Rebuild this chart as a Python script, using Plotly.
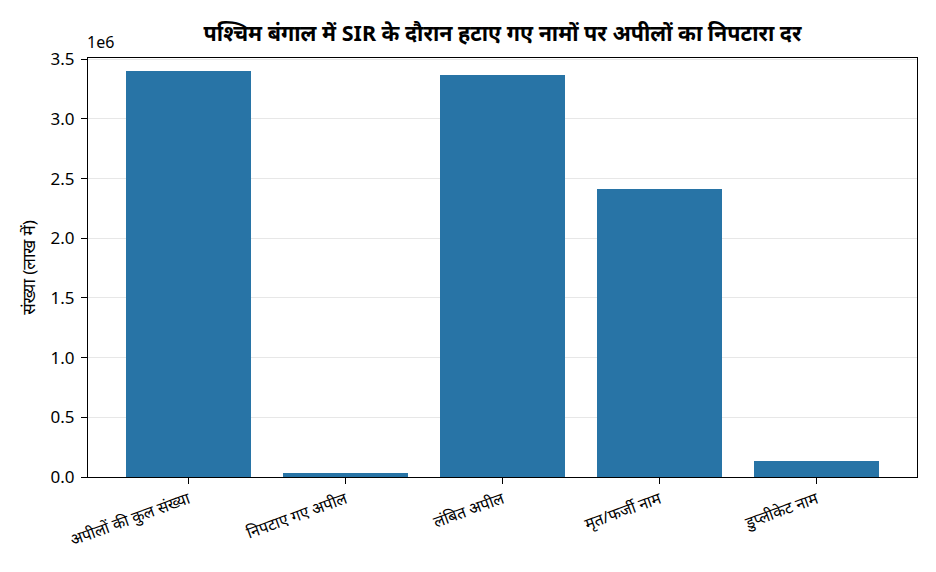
import plotly.graph_objects as go

# data
categories = ["अपीलों की कुल संख्या", "निपटाए गए अपील", "लंबित अपील", "मृत/फर्जी नाम", "डुप्लीकेट नाम"]
counts = [3400000, 31000, 3369000, 2410000, 132000]

y_tickvals = [0, 500000, 1000000, 1500000, 2000000, 2500000, 3000000, 3500000]
y_ticktext = ["0.0", "0.5", "1.0", "1.5", "2.0", "2.5", "3.0", "3.5"]

title = "पश्चिम बंगाल में SIR के दौरान हटाए गए नामों पर अपीलों का निपटारा दर"
y_title = "संख्या (लाख में)"

font_family = "Noto Sans, DejaVu Sans, sans-serif"

fig = go.Figure()
fig.add_trace(go.Bar(
    x=list(range(len(categories))),
    y=counts,
    width=0.8,
    marker=dict(color="#2874A6", line=dict(width=0)),
    hovertext=categories,
))

# page body adds 8px, so margins are trimmed to keep the plot box in place
fig.update_layout(
    width=936,
    height=572,
    paper_bgcolor="white",
    plot_bgcolor="white",
    font=dict(family=font_family, size=16, color="black"),
    margin=dict(l=80, r=27, t=50, b=103),
    showlegend=False,
    title=dict(
        text="<b>" + title + "</b>",
        xref="paper", x=0.5, xanchor="center",
        y=0.955, yanchor="middle",
        font=dict(size=21.5, color="black"),
    ),
    bargap=0,
)

fig.update_xaxes(
    range=[-0.64, 4.64],
    tickvals=list(range(len(categories))),
    ticktext=categories,
    tickangle=-20,
    tickfont=dict(size=16),
    ticks="outside", ticklen=6, tickcolor="black",
    showline=True, linecolor="black", linewidth=1, mirror=True,
    showgrid=False, zeroline=False,
)

fig.update_yaxes(
    range=[0, 3510000],
    tickvals=y_tickvals,
    ticktext=y_ticktext,
    tickfont=dict(size=17),
    ticks="outside", ticklen=6, tickcolor="black",
    ticklabelstandoff=3,
    showline=True, linecolor="black", linewidth=1, mirror=True,
    showgrid=True, gridcolor="rgba(176,176,176,0.3)", gridwidth=1,
    zeroline=False,
    layer="above traces",
    title=dict(text=y_title, font=dict(size=17), standoff=10),
)

# offset label like matplotlib's scientific notation
fig.add_annotation(
    text="1e6", xref="paper", yref="paper",
    x=0, y=1, xanchor="left", yanchor="bottom",
    showarrow=False, font=dict(size=16), xshift=-3, yshift=3,
)

fig.write_html("out.html")
